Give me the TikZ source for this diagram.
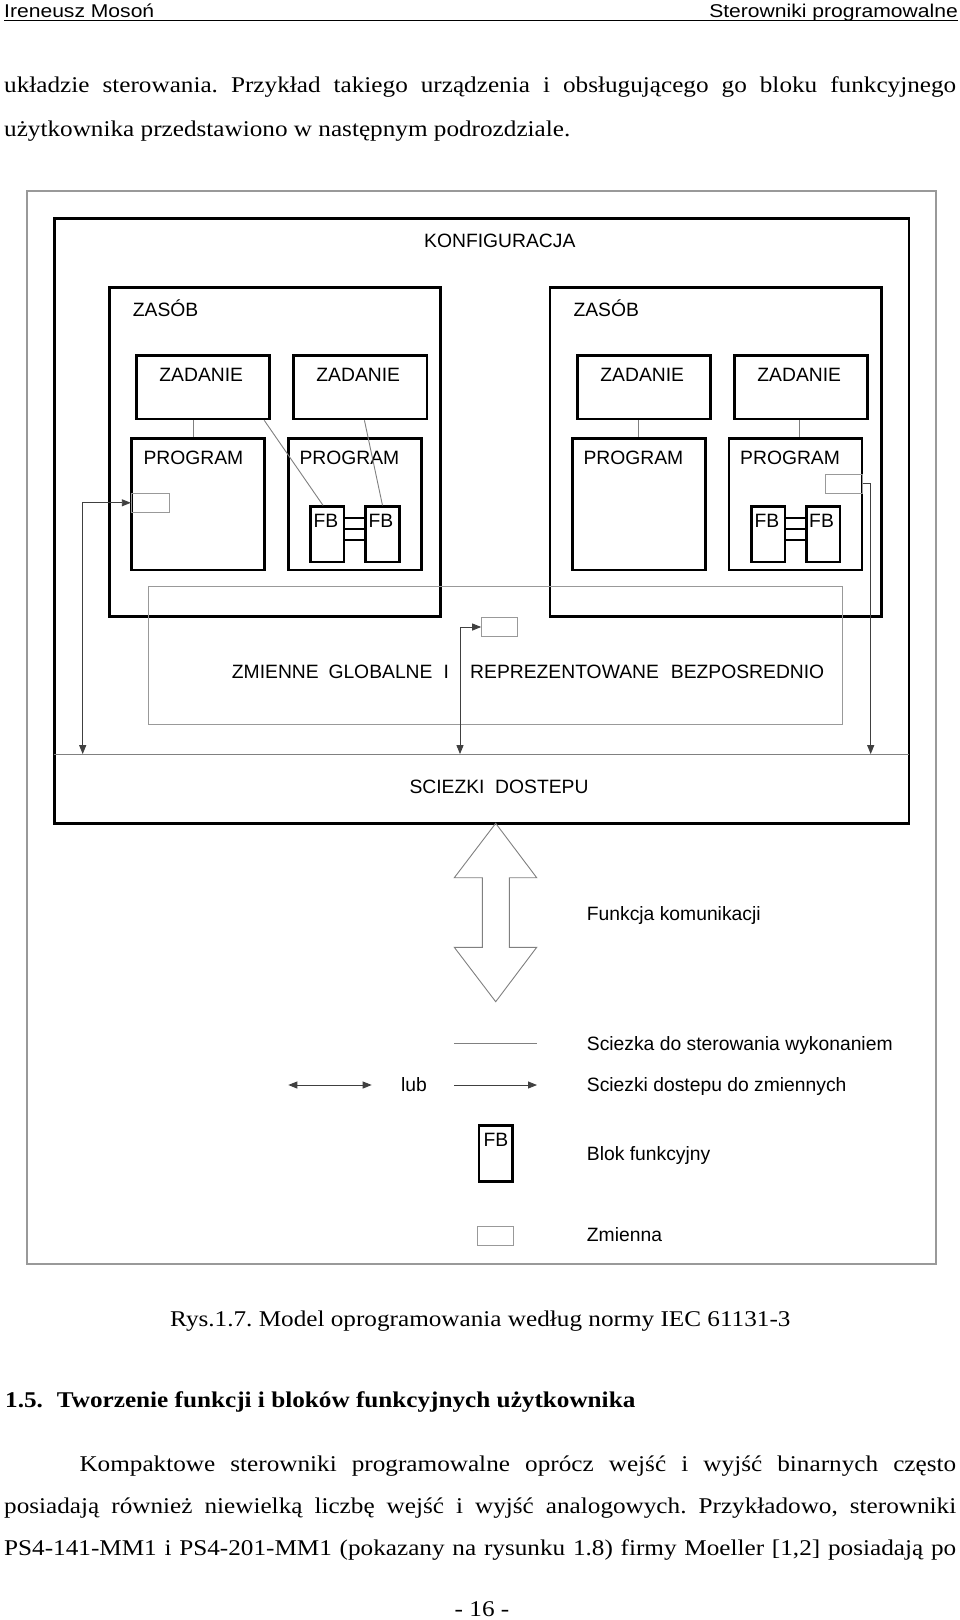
\documentclass[tikz,border=0pt]{standalone}
\usepackage{fontspec}
\setmainfont{Liberation Serif}
\newfontfamily\diafont{Liberation Sans}
\newfontfamily\hdrfont[FakeStretch=1.14]{Liberation Sans}
\newfontfamily\bodyfont[FakeStretch=1.12]{Liberation Serif}
\usetikzlibrary{arrows.meta,fit,calc}
\definecolor{framegray}{gray}{0.6}
\definecolor{conngray}{gray}{0.5}
\frenchspacing
\begin{document}
\begin{tikzpicture}[x=1pt,y=-1pt,
  thickbox/.style={draw=black,line width=2.6pt,inner sep=0pt},
  thinbox/.style={draw=framegray,line width=1.2pt,inner sep=0pt},
  varbox/.style={draw=framegray,line width=1pt,inner sep=0pt},
  hidden/.style={inner sep=0pt},
  conn/.style={draw=conngray,line width=0.9pt},
  fbl/.style={draw=black,line width=2pt},
  acc/.style={draw=black!75,line width=0.9pt,>={Triangle[length=9pt,width=7pt]}},
  dtext/.style={font=\diafont\fontsize{19.3}{23}\selectfont,inner sep=0pt,anchor=base west},
  btext/.style={font=\bodyfont\fontsize{22.5}{26}\selectfont,inner sep=0pt,anchor=base west},
  hdr/.style={font=\hdrfont\fontsize{18.5}{22}\selectfont,inner sep=0pt}]
\fill[white] (0,0) rectangle (960,1620);
\useasboundingbox (0,0) rectangle (960,1620);

% header
\node[hdr,anchor=base west] (h1) at (4,17.3) {Ireneusz Mosoń};
\node[hdr,anchor=base east] (h2) at (958,17.3) {Sterowniki programowalne};
\draw[line width=1.5pt] (h1.base west |- 0,20.5) -- (h2.base east |- 0,20.5);

% body text above
\node[btext] (b1) at (4,92) {\makebox[952pt][s]{układzie sterowania. Przykład takiego urządzenia i obsługującego go bloku funkcyjnego}};
\node[btext] (b2) at (4,136.5) {użytkownika przedstawiono w następnym podrozdziale.};

% frames
\node[thinbox,fit={(27,191) (936,1264)}] (outer) {};
\node[thickbox,fit={(54.3,218.3) (909,823.3)}] (cfg) {};
\node[thickbox,fit={(109.3,287.3) (440.7,616.7)}] (zas1) {};
\node[thickbox,fit={(550,287.3) (881.7,616.7)}] (zas2) {};
\node[thickbox,fit={(136.7,355.7) (269.7,419)}] (zad1) {};
\node[thickbox,fit={(293.7,355.7) (427,419)}] (zad2) {};
\node[thickbox,fit={(577.7,355.7) (710.7,419)}] (zad3) {};
\node[thickbox,fit={(734.7,355.7) (867.7,419)}] (zad4) {};
\node[thickbox,fit={(131.3,438.3) (264.7,570)}] (prog1) {};
\node[thickbox,fit={(288.7,438.3) (421.7,570)}] (prog2) {};
\node[thickbox,fit={(572.3,438.3) (705.3,570)}] (prog3) {};
\node[thickbox,fit={(729,438.3) (862,570)}] (prog4) {};
\node[thickbox,fit={(310.7,506.7) (344,562)}] (fb1) {};
\node[thickbox,fit={(365.7,506.7) (399.3,562)}] (fb2) {};
\node[thickbox,fit={(751.7,506.7) (785,562)}] (fb3) {};
\node[thickbox,fit={(806.3,506.7) (840,562)}] (fb4) {};
\node[thinbox,line width=1pt,fit={(148.7,586.7) (842.3,724)}] (glob) {};
\node[hidden,fit={(54.3,754.3) (909,823.3)}] (sciez) {};
\node[varbox,fit={(131.3,493.3) (169.3,512.3)}] (var1) {};
\node[varbox,fit={(481.7,617.3) (517.7,636.7)}] (var2) {};
\node[varbox,fit={(825.7,474.3) (862,493.3)}] (var3) {};

% labels
\node[dtext] (tkonf) at (424,247.6) {KONFIGURACJA};
\node[dtext] (tzas1) at (132.7,316) {ZASÓB};
\node[dtext] (tzas2) at (573.3,316) {ZASÓB};
\node[dtext] (tzad1) at (159.2,381.5) {ZADANIE};
\node[dtext] (tzad2) at (316.2,381.5) {ZADANIE};
\node[dtext] (tzad3) at (600.2,381.5) {ZADANIE};
\node[dtext] (tzad4) at (757.2,381.5) {ZADANIE};
\node[dtext] (tprog1) at (143.3,464) {PROGRAM};
\node[dtext] (tprog2) at (299.3,464) {PROGRAM};
\node[dtext] (tprog3) at (583.3,464) {PROGRAM};
\node[dtext] (tprog4) at (740,464) {PROGRAM};
\node[dtext] (tfb1) at (313.4,527) {FB};
\node[dtext] (tfb2) at (368.4,527) {FB};
\node[dtext] (tfb3) at (754.4,527) {FB};
\node[dtext] (tfb4) at (809,527) {FB};
\node[dtext] (tg1) at (231.7,678.6) {ZMIENNE};
\node[dtext] (tg2) at (328.3,678.6) {GLOBALNE};
\node[dtext] (tg3) at (443.3,678.6) {I};
\node[dtext] (tg4) at (470,678.6) {REPREZENTOWANE};
\node[dtext] (tg5) at (670.7,678.6) {BEZPOSREDNIO};
\node[dtext] (ts1) at (409.3,793.6) {SCIEZKI};
\node[dtext] (ts2) at (495,793.6) {DOSTEPU};

% sciezki line
\draw[conn] (sciez.north west) -- (sciez.north east);

% zadanie-program connectors
\coordinate (c1) at ($(zad1.south west)!0.425!(zad1.south east)$);
\coordinate (c3) at ($(zad3.south west)!0.461!(zad3.south east)$);
\coordinate (c4) at ($(zad4.south west)!0.49!(zad4.south east)$);
\draw[conn] (c1) -- (c1 |- prog1.north);
\draw[conn] (c3) -- (c3 |- prog3.north);
\draw[conn] (c4) -- (c4 |- prog4.north);
\draw[conn] ($(zad1.south west)!0.95!(zad1.south east)$) -- ($(fb1.north west)!0.38!(fb1.north east)$);
\draw[conn] ($(zad2.south west)!0.53!(zad2.south east)$) -- (fb2.north);

% FB connections
\foreach \o in {12.3,24,35}{
  \draw[fbl] ($(fb1.north east)+(0,\o)$) -- ($(fb2.north west)+(0,\o)$);
  \draw[fbl] ($(fb3.north east)+(0,\o)$) -- ($(fb4.north west)+(0,\o)$);
}

% access paths
\coordinate (xa) at (82.7,0);
\coordinate (xb) at (460,0);
\coordinate (xc) at (870.7,0);
\draw[acc,<->] (var1.west) -| (xa |- sciez.north);
\draw[acc,<->] (var2.west) -| (xb |- sciez.north);
\draw[acc,->] (var3.east) -| (xc |- sciez.north);

% communication double arrow
\draw[draw=conngray,line width=0.9pt,line join=miter] (495.7,823.3) -- (536.7,877.7) -- (509.3,877.7) -- (509.3,947.3) -- (536.7,947.3) -- (495.7,1001.7) -- (454.3,947.3) -- (482.3,947.3) -- (482.3,877.7) -- (454.3,877.7) -- cycle;

% legend
\node[dtext] (lf) at (586.7,920.7) {Funkcja komunikacji};
\coordinate (l1a) at (454.3,1043.3);
\coordinate (l1b) at (537,1043.3);
\draw[conn] (l1a) -- (l1b);
\node[dtext] (lsc) at (586.7,1050) {Sciezka do sterowania wykonaniem};
\coordinate (l2a) at (288.3,1085);
\coordinate (l2b) at (371.7,1085);
\draw[acc,<->] (l2a) -- (l2b);
\node[dtext] (llub) at (401,1091.7) {lub};
\coordinate (l3a) at (454.3,1085);
\coordinate (l3b) at (537,1085);
\draw[acc,->] (l3a) -- (l3b);
\node[dtext] (lsd) at (586.7,1091.3) {Sciezki dostepu do zmiennych};
\node[thickbox,fit={(479,1125.7) (512.7,1181.7)}] (lfb) {};
\node[dtext] (lfbt) at (483.3,1146) {FB};
\node[dtext] (lbf) at (586.7,1160) {Blok funkcyjny};
\node[varbox,fit={(477.3,1226.7) (513.7,1245.7)}] (lvar) {};
\node[dtext] (lzm) at (586.7,1241.7) {Zmienna};

% text below
\node[btext] (cap) at (170,1326) {Rys.1.7. Model oprogramowania według normy IEC 61131-3};
\node[btext,font=\bodyfont\bfseries\fontsize{22.5}{26}\selectfont] (sec) at (5,1407.3) {1.5.};
\node[btext,font=\bodyfont\bfseries\fontsize{22.5}{26}\selectfont] (sect) at (56.7,1407.3) {Tworzenie funkcji i bloków funkcyjnych użytkownika};
\node[btext] (p1) at (79.3,1471.5) {\makebox[876.7pt][s]{Kompaktowe sterowniki programowalne oprócz wejść i wyjść binarnych często}};
\node[btext] (p2) at (4,1513) {\makebox[952pt][s]{posiadają również niewielką liczbę wejść i wyjść analogowych. Przykładowo, sterowniki}};
\node[btext] (p3) at (4,1555) {\makebox[952pt][s]{PS4-141-MM1 i PS4-201-MM1 (pokazany na rysunku 1.8) firmy Moeller [1,2] posiadają po}};
\node[btext,anchor=base] (pn) at (482,1616) {- 16 -};
\end{tikzpicture}
\end{document}
